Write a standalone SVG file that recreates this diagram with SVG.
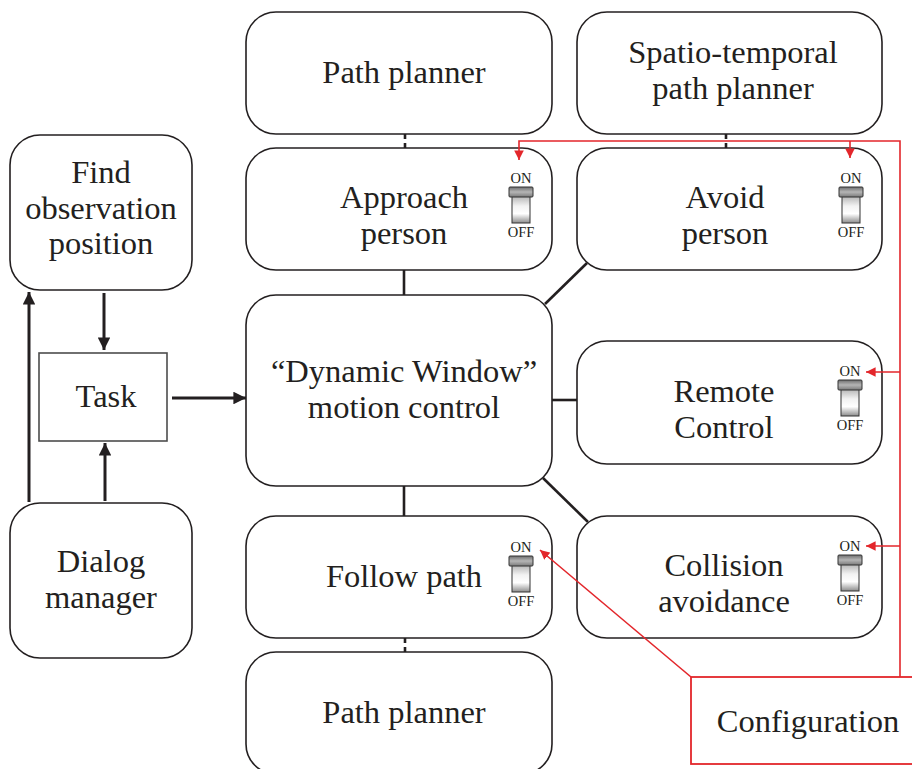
<svg xmlns="http://www.w3.org/2000/svg" width="912" height="769" viewBox="0 0 912 769">
  <style>
    .node { fill: #ffffff; stroke: #231f20; stroke-width: 1.6; }
    .task { fill: #ffffff; stroke: #4d4d4d; stroke-width: 1.6; }
    .lbl { font-family: "Liberation Serif", "Times New Roman", serif; font-size: 32.5px; fill: #231f20; text-anchor: middle; }
    .sw { font-family: "Liberation Serif", "Times New Roman", serif; font-size: 14.5px; fill: #231f20; text-anchor: middle; }
    .link { stroke: #231f20; stroke-width: 2.6; fill: none; }
    .arrow { stroke: #231f20; stroke-width: 3; fill: none; }
    .cfg { stroke: #e3262b; stroke-width: 1.6; fill: none; }
    .cfgbox { fill: #ffffff; stroke: #e3262b; stroke-width: 1.8; }
    .cap { fill: url(#capGrad); stroke: #333333; stroke-width: 1; }
    .lever { fill: url(#leverGrad); stroke: #333333; stroke-width: 1; }
  </style>
  <defs>
    <marker id="blk" viewBox="0 0 10 10" refX="10" refY="5" markerWidth="4.2" markerHeight="4.2" markerUnits="strokeWidth" orient="auto">
      <path d="M0,0 L10,5 L0,10 Z" fill="#231f20"/>
    </marker>
    <marker id="red" viewBox="0 0 10 10" refX="10" refY="5" markerWidth="6" markerHeight="6" markerUnits="strokeWidth" orient="auto">
      <path d="M0,0 L10,5 L0,10 Z" fill="#e3262b"/>
    </marker>
    <linearGradient id="capGrad" x1="0" y1="0" x2="0" y2="1">
      <stop offset="0" stop-color="#6e6e6e"/>
      <stop offset="0.5" stop-color="#b5b5b5"/>
      <stop offset="1" stop-color="#7a7a7a"/>
    </linearGradient>
    <linearGradient id="leverGrad" x1="0" y1="0" x2="0" y2="1">
      <stop offset="0" stop-color="#9a9a9a"/>
      <stop offset="0.45" stop-color="#f2f2f2"/>
      <stop offset="0.7" stop-color="#ffffff"/>
      <stop offset="1" stop-color="#8c8c8c"/>
    </linearGradient>
    <!-- ON/OFF toggle, origin at the ON baseline centre -->
    <g id="toggle">
      <text class="sw" x="0" y="0">ON</text>
      <rect class="lever" x="-9" y="9" width="18" height="31"/>
      <rect class="cap" x="-12" y="4" width="24" height="10" rx="1"/>
      <text class="sw" x="0" y="54">OFF</text>
    </g>
  </defs>

  <g id="path-planner-top">
    <rect class="node" x="246" y="12" width="306" height="122" rx="30"/>
    <text class="lbl" x="404" y="83">Path planner</text>
  </g>

  <g id="spatio-temporal-planner">
    <rect class="node" x="577" y="12" width="305" height="122" rx="30"/>
    <text class="lbl" x="733" y="63">Spatio-temporal</text>
    <text class="lbl" x="733" y="99">path planner</text>
  </g>

  <g id="approach-person">
    <rect class="node" x="246" y="148" width="306" height="122" rx="30"/>
    <text class="lbl" x="404" y="208">Approach</text>
    <text class="lbl" x="404" y="244">person</text>
    <use href="#toggle" x="521" y="183"/>
  </g>

  <g id="avoid-person">
    <rect class="node" x="577" y="148" width="305" height="122" rx="30"/>
    <text class="lbl" x="725" y="208">Avoid</text>
    <text class="lbl" x="725" y="244">person</text>
    <use href="#toggle" x="851" y="183"/>
  </g>

  <g id="find-observation-position">
    <rect class="node" x="10" y="135" width="182" height="155" rx="30"/>
    <text class="lbl" x="101" y="183">Find</text>
    <text class="lbl" x="101" y="219">observation</text>
    <text class="lbl" x="101" y="254">position</text>
  </g>

  <g id="task">
    <rect class="task" x="39" y="353" width="128" height="88"/>
    <text class="lbl" x="106" y="407">Task</text>
  </g>

  <g id="dynamic-window">
    <rect class="node" x="246" y="295" width="306" height="191" rx="30"/>
    <text class="lbl" x="404" y="382">“Dynamic Window”</text>
    <text class="lbl" x="404" y="418">motion control</text>
  </g>

  <g id="remote-control">
    <rect class="node" x="577" y="341" width="305" height="123" rx="30"/>
    <text class="lbl" x="724" y="402">Remote</text>
    <text class="lbl" x="724" y="438">Control</text>
    <use href="#toggle" x="850" y="376"/>
  </g>

  <g id="dialog-manager">
    <rect class="node" x="10" y="503" width="182" height="155" rx="30"/>
    <text class="lbl" x="101" y="572">Dialog</text>
    <text class="lbl" x="101" y="608">manager</text>
  </g>

  <g id="follow-path">
    <rect class="node" x="246" y="516" width="306" height="122" rx="30"/>
    <text class="lbl" x="404" y="587">Follow path</text>
    <use href="#toggle" x="521" y="552"/>
  </g>

  <g id="collision-avoidance">
    <rect class="node" x="577" y="516" width="305" height="122" rx="30"/>
    <text class="lbl" x="724" y="576">Collision</text>
    <text class="lbl" x="724" y="612">avoidance</text>
    <use href="#toggle" x="850" y="551"/>
  </g>

  <g id="path-planner-bottom">
    <rect class="node" x="246" y="652" width="306" height="122" rx="30"/>
    <text class="lbl" x="404" y="723">Path planner</text>
  </g>

  <g id="configuration">
    <rect class="cfgbox" x="691" y="677" width="230" height="87"/>
    <text class="lbl" x="808" y="732">Configuration</text>
  </g>

  <!-- connectors (drawn last so the configuration wiring runs over the boxes) -->
  <g id="connectors">
    <!-- dashed links to planners -->
    <line class="link" x1="405" y1="134" x2="405" y2="139"/>
    <line class="link" x1="405" y1="143" x2="405" y2="148"/>
    <line class="link" x1="726" y1="134" x2="726" y2="139"/>
    <line class="link" x1="726" y1="143" x2="726" y2="148"/>
    <line class="link" x1="405" y1="638" x2="405" y2="643"/>
    <line class="link" x1="405" y1="647" x2="405" y2="652"/>
    <!-- behaviours to motion control -->
    <line class="link" x1="404" y1="270" x2="404" y2="295"/>
    <line class="link" x1="404" y1="486" x2="404" y2="516"/>
    <line class="link" x1="545" y1="304" x2="587" y2="263"/>
    <line class="link" x1="552" y1="400" x2="577" y2="400"/>
    <line class="link" x1="543" y1="478" x2="588" y2="522"/>
    <!-- task flow arrows -->
    <line class="arrow" x1="172" y1="398" x2="246" y2="398" marker-end="url(#blk)"/>
    <line class="arrow" x1="104" y1="293" x2="104" y2="350" marker-end="url(#blk)"/>
    <line class="arrow" x1="105" y1="501" x2="105" y2="443" marker-end="url(#blk)"/>
    <line class="arrow" x1="29" y1="502" x2="29" y2="292" marker-end="url(#blk)"/>
    <!-- configuration wiring -->
    <polyline class="cfg" points="900,677 900,141 519,141 519,160" marker-end="url(#red)"/>
    <line class="cfg" x1="850" y1="141" x2="850" y2="158" marker-end="url(#red)"/>
    <line class="cfg" x1="900" y1="372" x2="866" y2="372" marker-end="url(#red)"/>
    <line class="cfg" x1="900" y1="546" x2="866" y2="546" marker-end="url(#red)"/>
    <line class="cfg" x1="691" y1="677" x2="540" y2="550" marker-end="url(#red)"/>
  </g>
</svg>
